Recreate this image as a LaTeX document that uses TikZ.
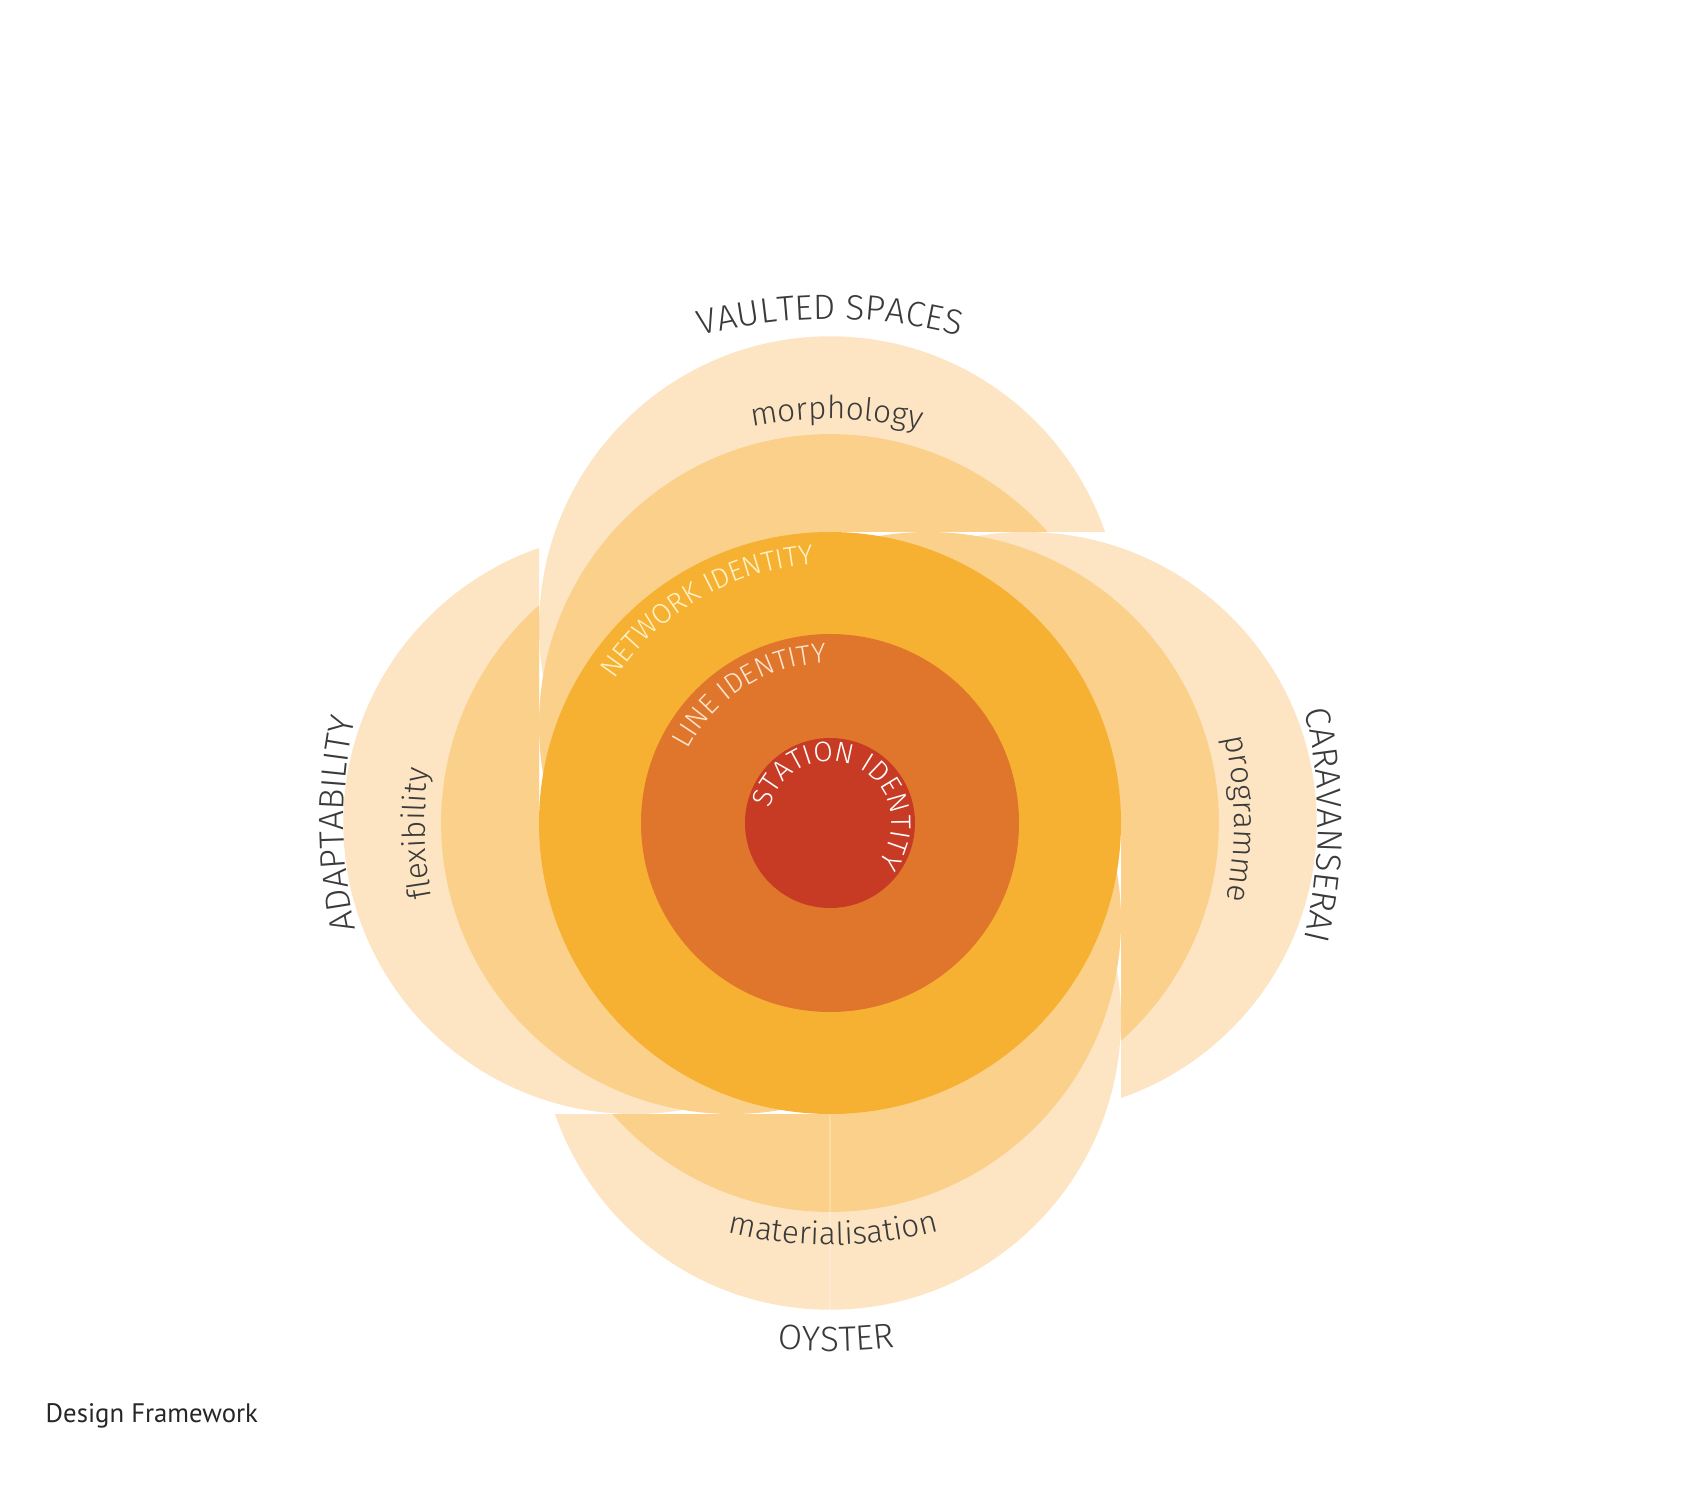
\documentclass[tikz,border=0pt]{standalone}
\usepackage{fontspec}
\newfontfamily\lightfont{Fira Sans Light}
\newfontfamily\captionfont{PT Sans}
\usetikzlibrary{decorations.text}

\definecolor{petallight}{HTML}{FDE5C4}
\definecolor{petalmid}{HTML}{FBD08A}
\definecolor{networkorange}{HTML}{F6B133}
\definecolor{lineorange}{HTML}{E0762C}
\definecolor{stationred}{HTML}{C73B25}
\definecolor{labeldark}{HTML}{3A3A3A}
\definecolor{networktext}{HTML}{FFF2C6}
\definecolor{linetext}{HTML}{FCE4CC}

\newcommand{\ringouter}{\lightfont\fontsize{10}{12}\selectfont}
\newcommand{\ringmid}{\lightfont\fontsize{9}{11}\selectfont}
\newcommand{\ringinner}{\lightfont\fontsize{8}{10}\selectfont}

\begin{document}
\begin{tikzpicture}[x=0.01cm, y=0.01cm,
  arclabel/.style 2 args={decorate, decoration={text along path, text align=center, text color=#1, text={#2}}},
  seam/.style={draw=white, opacity=0.22, line width=0.4pt}
]
  \useasboundingbox (-830,-677) rectangle (856,823);
  \coordinate (C) at (0,0);

  % four petals, each clipped on its clockwise side
  \foreach \ang in {90,0,-90,180} {
    \begin{scope}
      \clip[rotate=\ang-90] (-600,-600) -- (0,-600) -- (0,291) -- (600,291) -- (600,600) -- (-600,600) -- cycle;
      \fill[petallight] (\ang:195.7) circle (291);
      \fill[petalmid] (\ang:97.9) circle (291);
    \end{scope}
  }

  \fill[networkorange] (C) circle (291);
  \fill[lineorange] (C) circle (189);
  \fill[stationred] (C) circle (85);
  \path[seam] (C) ++(0,-291) -- ++(0,-195.7);

  % outer labels
  \path[arclabel={labeldark}{|\ringouter|VAULTED SPACES}] (150:504) arc[start angle=150, end angle=30, radius=504];
  \path[arclabel={labeldark}{|\ringouter|CARAVANSERAI}] (59.8:488) arc[start angle=59.8, end angle=-60.2, radius=488];
  \path[arclabel={labeldark}{|\ringouter|OYSTER}] (210.7:528) arc[start angle=210.7, end angle=330.7, radius=528];
  \path[arclabel={labeldark}{|\ringouter|ADAPTABILITY}] (240.1:486) arc[start angle=240.1, end angle=120.1, radius=486];

  % petal labels
  \path[arclabel={labeldark}{|\ringmid|morphology}] (149.1:404) arc[start angle=149.1, end angle=29.1, radius=404];
  \path[arclabel={labeldark}{|\ringmid|programme}] (60.6:404) arc[start angle=60.6, end angle=-59.4, radius=404];
  \path[arclabel={labeldark}{|\ringmid|materialisation}] (210.5:422) arc[start angle=210.5, end angle=330.5, radius=422];
  \path[arclabel={labeldark}{|\ringmid|flexibility}] (241.5:405) arc[start angle=241.5, end angle=121.5, radius=405];

  % ring labels
  \path[arclabel={networktext}{|\ringinner|NETWORK IDENTITY}] (170:259) arc[start angle=170, end angle=70, radius=259];
  \path[arclabel={linetext}{|\ringinner|LINE IDENTITY}] (182:160) arc[start angle=182, end angle=62, radius=160];
  \path[arclabel={white}{|\ringinner|STATION IDENTITY}] (203.5:62) arc[start angle=203.5, end angle=-76.5, radius=62];

  \node[anchor=base west, inner sep=0, font=\captionfont\fontsize{7.6}{9}\selectfont, text=black!85] (caption) at (-785,-599) {Design Framework};
\end{tikzpicture}
\end{document}
